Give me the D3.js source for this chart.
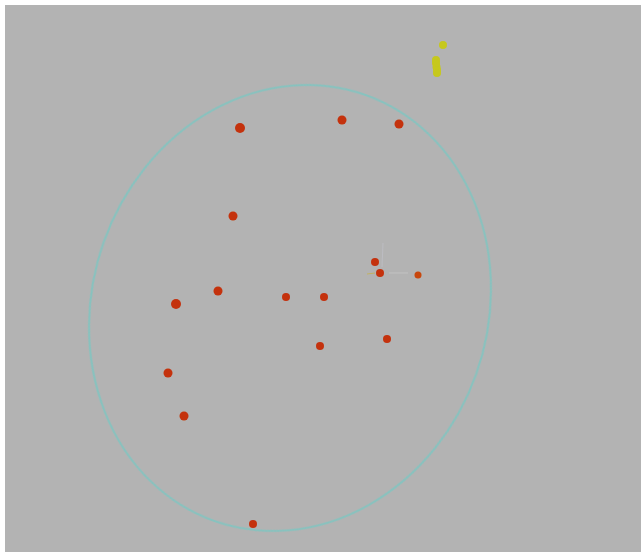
<!DOCTYPE html>
<html>
<head>
<meta charset="utf-8">
<script src="https://cdn.jsdelivr.net/npm/d3@7"></script>
<style>
html,body{margin:0;padding:0;background:#ffffff;}
svg{display:block;}
</style>
</head>
<body>
<script>
// Data (scene units)
const redX = [235, 337, 394, 228, 370, 375, 213, 171, 281, 319, 315, 382, 163, 179, 248];
const redY = [123, 115, 119, 211, 257, 268, 286, 299, 292, 292, 341, 334, 368, 411, 519];
const redR = [5, 4.5, 4.5, 4.5, 4, 4, 4.5, 5, 4, 4, 4, 4, 4.5, 4.5, 4];
const orangeX = [413];
const orangeY = [270];
const yellowX = [438, 431, 431, 431.5, 432, 432];
const yellowY = [40, 55, 58, 62, 65, 68];
const ellipseCenter = [285, 303];
const ellipseRadii = [197.6, 226];
const ellipseTilt = 19.6;
const gizmoOrigin = [376, 268];
const gizmoX = [403, 268];
const gizmoY = [378, 238];
const gizmoZ = [362, 269];

const W = 641, H = 552;
const svg = d3.select("body").append("svg").attr("width", W).attr("height", H);

const x = d3.scaleLinear().domain([0, 636]).range([5, 641]);
const y = d3.scaleLinear().domain([0, 547]).range([5, 552]);

svg.append("rect").attr("x", x(0)).attr("y", y(0))
  .attr("width", x(636) - x(0)).attr("height", y(547) - y(0))
  .attr("fill", "#b3b3b3");

const blur = svg.append("defs").append("filter").attr("id", "soft")
  .attr("x", "-50%").attr("y", "-50%").attr("width", "200%").attr("height", "200%");
blur.append("feGaussianBlur").attr("stdDeviation", 0.5);

// ellipse
svg.append("ellipse")
  .attr("cx", x(ellipseCenter[0])).attr("cy", y(ellipseCenter[1]))
  .attr("rx", x(ellipseRadii[0]) - x(0)).attr("ry", y(ellipseRadii[1]) - y(0))
  .attr("transform", `rotate(${ellipseTilt},${x(ellipseCenter[0])},${y(ellipseCenter[1])})`)
  .attr("fill", "none").attr("stroke", "#86c3bf").attr("stroke-width", 2)
  .attr("filter", "url(#soft)");

// gizmo
const g = svg.append("g").attr("stroke-width", 1).attr("opacity", 0.7);
g.append("line").attr("x1", x(gizmoOrigin[0]) + 8).attr("y1", y(gizmoOrigin[1]))
  .attr("x2", x(gizmoX[0])).attr("y2", y(gizmoX[1])).attr("stroke", "#c8c8c8");
g.append("line").attr("x1", x(gizmoOrigin[0]) + 1).attr("y1", y(gizmoOrigin[1]) - 6)
  .attr("x2", x(gizmoY[0])).attr("y2", y(gizmoY[1])).attr("stroke", "#c0c0c8");
g.append("line").attr("x1", x(gizmoOrigin[0]) - 6).attr("y1", y(gizmoOrigin[1]))
  .attr("x2", x(gizmoZ[0])).attr("y2", y(gizmoZ[1])).attr("stroke", "#c8b040");

// red points
svg.append("g").selectAll("circle").data(redX.map((d, i) => [d, redY[i], redR[i]]))
  .join("circle")
  .attr("cx", d => x(d[0])).attr("cy", d => y(d[1])).attr("r", d => d[2])
  .attr("fill", "#c4320c").attr("filter", "url(#soft)");

svg.append("g").selectAll("circle").data(orangeX.map((d, i) => [d, orangeY[i]]))
  .join("circle")
  .attr("cx", d => x(d[0])).attr("cy", d => y(d[1])).attr("r", 3.5)
  .attr("fill", "#c8460e").attr("filter", "url(#soft)");

svg.append("g").selectAll("circle").data(yellowX.map((d, i) => [d, yellowY[i]]))
  .join("circle")
  .attr("cx", d => x(d[0])).attr("cy", d => y(d[1])).attr("r", 4)
  .attr("fill", "#c6c81c").attr("filter", "url(#soft)");
</script>
</body>
</html>
